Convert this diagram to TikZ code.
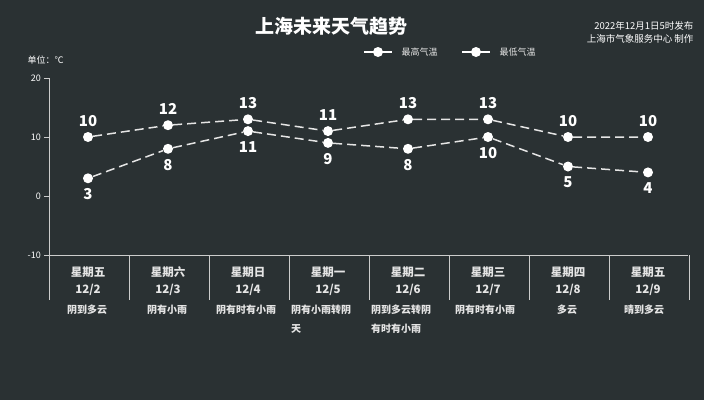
\documentclass[tikz,border=0pt]{standalone}
\usepackage{fontspec}
\setmainfont{Noto Sans CJK SC}
\setsansfont{Noto Sans CJK SC}
\definecolor{bg}{RGB}{42,49,51}
\begin{document}
\begin{tikzpicture}[x=1pt,y=-1pt,
 ax/.style={font=\fontsize{9}{10}\selectfont,text=white,anchor=east,inner sep=1pt},
 val/.style={font=\bfseries\fontsize{15}{16}\selectfont,text=white,inner sep=0pt},
 wk/.style={font=\bfseries\fontsize{11.5}{12}\selectfont,text=white!90!black},
 ds/.style={font=\bfseries\fontsize{10}{19}\selectfont,text=white!90!black,align=left,anchor=north west,inner sep=0pt},
 dot/.style={circle,fill=white,inner sep=0pt,minimum size=10pt},
 ln/.style={white!90!black,line width=1.5pt,dash pattern=on 9pt off 5pt},
 grid/.style={white!80!black,line width=0.6pt}]
\fill[fill=bg] (0,0) rectangle (704,400);
\useasboundingbox (0,0) rectangle (704,400);
\node[font=\bfseries\fontsize{19}{20}\selectfont,text=white] (title) at (331,26) {上海未来天气趋势};
\node[font=\fontsize{9.5}{13}\selectfont,text=white,align=right,anchor=north east] (pub) at (697,18) {2022年12月1日5时发布\\上海市气象服务中心 制作};
\node[font=\fontsize{9}{10}\selectfont,text=white,anchor=west] (unit) at (24,60) {单位：℃};
% legend
\coordinate (l1a) at (364,52); \coordinate (l1b) at (392,52);
\draw[white,line width=1.5pt] (l1a) -- (l1b); \node[dot] (ld1) at (378,52) {};
\node[font=\fontsize{9}{10}\selectfont,text=white!90!black,anchor=west] (lt1) at (398,52) {最高气温};
\coordinate (l2a) at (462,52); \coordinate (l2b) at (490,52);
\draw[white,line width=1.5pt] (l2a) -- (l2b); \node[dot] (ld2) at (476,52) {};
\node[font=\fontsize{9}{10}\selectfont,text=white!90!black,anchor=west] (lt2) at (496,52) {最低气温};
% axes
\coordinate (a0) at (49,78); \coordinate (a1) at (49,300);
\draw[grid] (a0) -- (a1);
\foreach \v/\yy in {20/78,10/137,0/196,-10/255}{
 \coordinate (t\v) at (49,\yy); \coordinate (u\v) at (44,\yy);
 \draw[grid] (t\v) -- (u\v);
 \node[ax] (lab\v) at (42,\yy) {\v};}
\coordinate (b0) at (44,255); \coordinate (b1) at (688,255);
\draw[grid] (b0) -- (b1);
\foreach \i in {1,...,8}{
 \coordinate (s\i) at ({49+80*\i},255); \coordinate (e\i) at ({49+80*\i},300);
 \draw[grid] (s\i) -- (e\i);}
% data
\def\hi{{10,12,13,11,13,13,10,10}}
\def\lo{{3,8,11,9,8,10,5,4}}
\foreach \i in {0,...,7}{
 \pgfmathtruncatemacro\hv{\hi[\i]} \pgfmathtruncatemacro\lv{\lo[\i]}
 \node[dot] (h\i) at ({88+80*\i},{196-5.9*\hv}) {};
 \node[dot] (l\i) at ({88+80*\i},{196-5.9*\lv}) {};
 \node[val,anchor=south] (hv\i) at ([yshift=5pt]h\i.north) {\hv};
 \node[val,anchor=north] (lv\i) at ([yshift=-5pt]l\i.south) {\lv};}
\draw[ln] (h0)--(h1)--(h2)--(h3)--(h4)--(h5)--(h6)--(h7);
\draw[ln] (l0)--(l1)--(l2)--(l3)--(l4)--(l5)--(l6)--(l7);
% bottom labels
\foreach \w/\d [count=\i from 0] in {星期五/2,星期六/3,星期日/4,星期一/5,星期二/6,星期三/7,星期四/8,星期五/9}{
 \node[wk] (w\i) at ({88+80*\i},272) {\w};
 \node[wk] (d\i) at ({88+80*\i},290) {12/\d};}
\node[ds] (x0) at (67,305) {阴到多云};
\node[ds] (x1) at (147,305) {阴有小雨};
\node[ds] (x2) at (216,305) {阴有时有小雨};
\node[ds] (x3) at (291,305) {阴有小雨转阴\\天};
\node[ds] (x4) at (371,305) {阴到多云转阴\\有时有小雨};
\node[ds] (x5) at (455,305) {阴有时有小雨};
\node[ds] (x6) at (557,305) {多云};
\node[ds] (x7) at (624,305) {晴到多云};
\end{tikzpicture}
\end{document}
